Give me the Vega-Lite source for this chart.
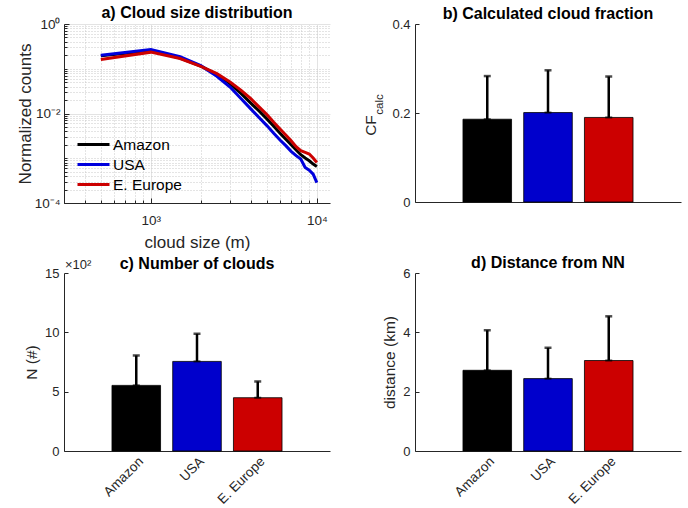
{
  "$schema": "https://vega.github.io/schema/vega-lite/v6.json",
  "background": "white",
  "padding": {"left": 16, "top": 5, "right": 5, "bottom": 2},
  "bounds": "flush",
  "columns": 2,
  "spacing": {"row": 70, "column": 85},
  "resolve": {"scale": {"color": "independent"}, "legend": {"color": "independent"}},
  "datasets": {
    "sizes": [
      {"size": 500, "region": "Amazon", "counts": 0.194},
      {"size": 1000, "region": "Amazon", "counts": 0.252},
      {"size": 1500, "region": "Amazon", "counts": 0.174},
      {"size": 2000, "region": "Amazon", "counts": 0.115},
      {"size": 2500, "region": "Amazon", "counts": 0.074},
      {"size": 3000, "region": "Amazon", "counts": 0.0465},
      {"size": 3500, "region": "Amazon", "counts": 0.0277},
      {"size": 4000, "region": "Amazon", "counts": 0.0171},
      {"size": 4500, "region": "Amazon", "counts": 0.01127},
      {"size": 5000, "region": "Amazon", "counts": 0.00759},
      {"size": 5500, "region": "Amazon", "counts": 0.00519},
      {"size": 6000, "region": "Amazon", "counts": 0.00361},
      {"size": 6500, "region": "Amazon", "counts": 0.00265},
      {"size": 7000, "region": "Amazon", "counts": 0.00201},
      {"size": 7500, "region": "Amazon", "counts": 0.00153},
      {"size": 8000, "region": "Amazon", "counts": 0.0012},
      {"size": 8500, "region": "Amazon", "counts": 0.00101},
      {"size": 9000, "region": "Amazon", "counts": 0.000879},
      {"size": 9500, "region": "Amazon", "counts": 0.00074},
      {"size": 10000, "region": "Amazon", "counts": 0.000655},
      {"size": 500, "region": "USA", "counts": 0.201},
      {"size": 1000, "region": "USA", "counts": 0.27},
      {"size": 1500, "region": "USA", "counts": 0.185},
      {"size": 2000, "region": "USA", "counts": 0.117},
      {"size": 2500, "region": "USA", "counts": 0.0678},
      {"size": 3000, "region": "USA", "counts": 0.0391},
      {"size": 3500, "region": "USA", "counts": 0.0214},
      {"size": 4000, "region": "USA", "counts": 0.0127},
      {"size": 4500, "region": "USA", "counts": 0.008},
      {"size": 5000, "region": "USA", "counts": 0.00537},
      {"size": 5500, "region": "USA", "counts": 0.00361},
      {"size": 6000, "region": "USA", "counts": 0.00256},
      {"size": 6500, "region": "USA", "counts": 0.00191},
      {"size": 7000, "region": "USA", "counts": 0.00143},
      {"size": 7500, "region": "USA", "counts": 0.00114},
      {"size": 8000, "region": "USA", "counts": 0.000957},
      {"size": 8500, "region": "USA", "counts": 0.000622},
      {"size": 9000, "region": "USA", "counts": 0.000542},
      {"size": 9500, "region": "USA", "counts": 0.000441},
      {"size": 10000, "region": "USA", "counts": 0.000286},
      {"size": 500, "region": "E. Europe", "counts": 0.161},
      {"size": 1000, "region": "E. Europe", "counts": 0.235},
      {"size": 1500, "region": "E. Europe", "counts": 0.169},
      {"size": 2000, "region": "E. Europe", "counts": 0.1135},
      {"size": 2500, "region": "E. Europe", "counts": 0.0778},
      {"size": 3000, "region": "E. Europe", "counts": 0.0506},
      {"size": 3500, "region": "E. Europe", "counts": 0.0329},
      {"size": 4000, "region": "E. Europe", "counts": 0.0214},
      {"size": 4500, "region": "E. Europe", "counts": 0.01387},
      {"size": 5000, "region": "E. Europe", "counts": 0.00951},
      {"size": 5500, "region": "E. Europe", "counts": 0.00638},
      {"size": 6000, "region": "E. Europe", "counts": 0.00452},
      {"size": 6500, "region": "E. Europe", "counts": 0.00332},
      {"size": 7000, "region": "E. Europe", "counts": 0.00247},
      {"size": 7500, "region": "E. Europe", "counts": 0.00181},
      {"size": 8000, "region": "E. Europe", "counts": 0.00148},
      {"size": 8500, "region": "E. Europe", "counts": 0.00135},
      {"size": 9000, "region": "E. Europe", "counts": 0.00124},
      {"size": 9500, "region": "E. Europe", "counts": 0.00101},
      {"size": 10000, "region": "E. Europe", "counts": 0.000805}
    ],
    "cf": [
      {"region": "Amazon", "mean": 0.186, "upper": 0.283},
      {"region": "USA", "mean": 0.201, "upper": 0.296},
      {"region": "E. Europe", "mean": 0.19, "upper": 0.282}
    ],
    "ncl": [
      {"region": "Amazon", "mean": 553, "upper": 805},
      {"region": "USA", "mean": 755, "upper": 988},
      {"region": "E. Europe", "mean": 449, "upper": 586}
    ],
    "dist": [
      {"region": "Amazon", "mean": 2.72, "upper": 4.07},
      {"region": "USA", "mean": 2.44, "upper": 3.48},
      {"region": "E. Europe", "mean": 3.05, "upper": 4.54}
    ],
    "one": [{"label": "calc"}]
  },
  "concat": [
    {
      "width": 266,
      "height": 179,
      "title": {"text": "a) Cloud size distribution", "offset": -4},
      "data": {"name": "sizes"},
      "mark": {"type": "line", "strokeWidth": 3, "clip": true},
      "encoding": {
        "x": {
          "field": "size", "type": "quantitative",
          "scale": {"type": "log", "domain": [300, 12000], "nice": false},
          "axis": {
            "title": "cloud size (m)",
            "values": [300, 400, 500, 600, 700, 800, 900, 1000, 2000, 3000, 4000, 5000, 6000, 7000, 8000, 9000, 10000],
            "labelExpr": "datum.value == 1000 ? '10³' : (datum.value == 10000 ? '10⁴' : '')",
            "grid": true,
            "gridColor": {"condition": {"test": "datum.value == 1000 || datum.value == 10000", "value": "#e3e3e3"}, "value": "#c8c8c8"},
            "gridDash": {"condition": {"test": "datum.value == 1000 || datum.value == 10000", "value": []}, "value": [1, 2]},
            "tickSize": {"condition": {"test": "datum.value == 1000 || datum.value == 10000", "value": -5}, "value": -3},
            "labelPadding": 15,
            "labelFontSize": 13.5,
            "titlePadding": 8,
            "titleFontSize": 17,
            "labelFlush": false
          }
        },
        "y": {
          "field": "counts", "type": "quantitative",
          "scale": {"type": "log", "domain": [0.0001, 1], "nice": false},
          "axis": {
            "title": "Normalized counts",
            "values": [0.0001, 0.0002, 0.0003, 0.0004, 0.0005, 0.0006, 0.0007, 0.0008, 0.0009, 0.001, 0.002, 0.003, 0.004, 0.005, 0.006, 0.007, 0.008, 0.009, 0.01, 0.02, 0.03, 0.04, 0.05, 0.06, 0.07, 0.08, 0.09, 0.1, 0.2, 0.3, 0.4, 0.5, 0.6, 0.7, 0.8, 0.9, 1],
            "labelExpr": "datum.value == 1 ? '10⁰' : (datum.value == 0.01 ? '10⁻²' : (datum.value == 0.0001 ? '10⁻⁴' : ''))",
            "grid": true,
            "gridColor": {"condition": {"test": "datum.value == 1 || datum.value == 0.01 || datum.value == 0.0001", "value": "#e3e3e3"}, "value": "#c8c8c8"},
            "gridDash": {"condition": {"test": "datum.value == 1 || datum.value == 0.01 || datum.value == 0.0001", "value": []}, "value": [1, 2]},
            "tickSize": {"condition": {"test": "datum.value == 1 || datum.value == 0.01 || datum.value == 0.0001", "value": -5}, "value": -3},
            "labelFontSize": 13.5,
            "labelPadding": 9,
            "titlePadding": 0,
            "titleFontSize": 17,
            "labelFlush": false
          }
        },
        "color": {
          "field": "region", "type": "nominal",
          "sort": ["Amazon", "USA", "E. Europe"],
          "scale": {"domain": ["Amazon", "USA", "E. Europe"], "range": ["#000000", "#0000DD", "#CC0000"]},
          "legend": {
            "title": null,
            "orient": "none",
            "legendX": 20,
            "legendY": 111,
            "symbolType": "M-2,0H2",
            "symbolSize": 256,
            "symbolStrokeWidth": 2.8,
            "labelFontSize": 15.5,
            "labelColor": "#000000",
            "labelOffset": 10,
            "rowPadding": 2,
            "padding": 0
          }
        }
      }
    },
    {
      "width": 266,
      "height": 178,
      "title": {"text": "b) Calculated cloud fraction", "offset": -4},
      "data": {"name": "cf"},
      "layer": [
        {
          "mark": {"type": "bar", "stroke": "#000000", "strokeWidth": 0.8},
          "encoding": {
            "x": {"field": "region", "type": "nominal", "sort": ["Amazon", "USA", "E. Europe"], "scale": {"paddingInner": 0.2, "paddingOuter": 0.79}, "axis": {"title": null, "labels": false, "tickSize": -3}},
            "y": {"field": "mean", "type": "quantitative", "scale": {"domain": [0, 0.4], "nice": false},
              "axis": {"title": "CF", "titleFontSize": 15.5, "values": [0, 0.2, 0.4], "labelExpr": "datum.value == 0 ? '0' : format(datum.value, '.1f')", "titlePadding": 13, "titleY": 101}},
            "color": {"field": "region", "type": "nominal", "scale": {"domain": ["Amazon", "USA", "E. Europe"], "range": ["#000000", "#0000CC", "#CC0000"]}, "legend": null}
          }
        },
        {
          "mark": {"type": "rule", "strokeWidth": 2.5, "color": "#000000"},
          "encoding": {
            "x": {"field": "region", "type": "nominal", "sort": ["Amazon", "USA", "E. Europe"]},
            "y": {"field": "mean", "type": "quantitative"},
            "y2": {"field": "upper"}
          }
        },
        {
          "mark": {"type": "tick", "color": "#000000", "size": 7, "thickness": 2.5},
          "encoding": {
            "x": {"field": "region", "type": "nominal", "sort": ["Amazon", "USA", "E. Europe"]},
            "y": {"field": "upper", "type": "quantitative"}
          }
        },
        {
          "mark": {"type": "tick", "color": "#000000", "size": 7, "thickness": 2},
          "encoding": {
            "x": {"field": "region", "type": "nominal", "sort": ["Amazon", "USA", "E. Europe"]},
            "y": {"field": "mean", "type": "quantitative"}
          }
        },
        {
          "data": {"name": "one"},
          "mark": {"type": "text", "angle": 270, "fontSize": 11.5, "color": "#262626", "align": "center", "baseline": "middle"},
          "encoding": {
            "text": {"field": "label"},
            "x": {"value": -35},
            "y": {"datum": 0.219}
          }
        }
      ]
    },
    {
      "width": 266,
      "height": 178,
      "title": {"text": "c) Number of clouds", "offset": -13},
      "data": {"name": "ncl"},
      "layer": [
        {
          "mark": {"type": "bar", "stroke": "#000000", "strokeWidth": 0.8},
          "encoding": {
            "x": {"field": "region", "type": "nominal", "sort": ["Amazon", "USA", "E. Europe"], "scale": {"paddingInner": 0.2, "paddingOuter": 0.79}, "axis": {"title": null, "labelAngle": -45, "tickSize": -3, "labelFontSize": 13.5, "labelPadding": 6}},
            "y": {"field": "mean", "type": "quantitative", "scale": {"domain": [0, 1500], "nice": false},
              "axis": {"title": "N (#)", "values": [0, 500, 1000, 1500], "labelExpr": "format(datum.value / 100, 'd')", "titlePadding": 5}},
            "color": {"field": "region", "type": "nominal", "scale": {"domain": ["Amazon", "USA", "E. Europe"], "range": ["#000000", "#0000CC", "#CC0000"]}, "legend": null}
          }
        },
        {
          "mark": {"type": "rule", "strokeWidth": 2.5, "color": "#000000"},
          "encoding": {
            "x": {"field": "region", "type": "nominal", "sort": ["Amazon", "USA", "E. Europe"]},
            "y": {"field": "mean", "type": "quantitative"},
            "y2": {"field": "upper"}
          }
        },
        {
          "mark": {"type": "tick", "color": "#000000", "size": 7, "thickness": 2.5},
          "encoding": {
            "x": {"field": "region", "type": "nominal", "sort": ["Amazon", "USA", "E. Europe"]},
            "y": {"field": "upper", "type": "quantitative"}
          }
        },
        {
          "mark": {"type": "tick", "color": "#000000", "size": 7, "thickness": 2},
          "encoding": {
            "x": {"field": "region", "type": "nominal", "sort": ["Amazon", "USA", "E. Europe"]},
            "y": {"field": "mean", "type": "quantitative"}
          }
        },
        {
          "data": {"values": [{"label": "×10²"}]},
          "mark": {"type": "text", "fontSize": 13, "color": "#262626", "align": "left", "baseline": "bottom", "dy": -1},
          "encoding": {
            "text": {"field": "label"},
            "x": {"value": 1},
            "y": {"datum": 1500}
          }
        }
      ]
    },
    {
      "width": 266,
      "height": 178,
      "title": {"text": "d) Distance from NN", "offset": -4},
      "data": {"name": "dist"},
      "layer": [
        {
          "mark": {"type": "bar", "stroke": "#000000", "strokeWidth": 0.8},
          "encoding": {
            "x": {"field": "region", "type": "nominal", "sort": ["Amazon", "USA", "E. Europe"], "scale": {"paddingInner": 0.2, "paddingOuter": 0.79}, "axis": {"title": null, "labelAngle": -45, "tickSize": -3, "labelFontSize": 13.5, "labelPadding": 6}},
            "y": {"field": "mean", "type": "quantitative", "scale": {"domain": [0, 6], "nice": false},
              "axis": {"title": "distance (km)", "values": [0, 2, 4, 6], "titlePadding": 5}},
            "color": {"field": "region", "type": "nominal", "scale": {"domain": ["Amazon", "USA", "E. Europe"], "range": ["#000000", "#0000CC", "#CC0000"]}, "legend": null}
          }
        },
        {
          "mark": {"type": "rule", "strokeWidth": 2.5, "color": "#000000"},
          "encoding": {
            "x": {"field": "region", "type": "nominal", "sort": ["Amazon", "USA", "E. Europe"]},
            "y": {"field": "mean", "type": "quantitative"},
            "y2": {"field": "upper"}
          }
        },
        {
          "mark": {"type": "tick", "color": "#000000", "size": 7, "thickness": 2.5},
          "encoding": {
            "x": {"field": "region", "type": "nominal", "sort": ["Amazon", "USA", "E. Europe"]},
            "y": {"field": "upper", "type": "quantitative"}
          }
        },
        {
          "mark": {"type": "tick", "color": "#000000", "size": 7, "thickness": 2},
          "encoding": {
            "x": {"field": "region", "type": "nominal", "sort": ["Amazon", "USA", "E. Europe"]},
            "y": {"field": "mean", "type": "quantitative"}
          }
        }
      ]
    }
  ],
  "config": {
    "font": "Liberation Sans",
    "view": {"stroke": null},
    "axis": {
      "domainColor": "#262626", "domainWidth": 1,
      "tickColor": "#262626", "tickWidth": 1, "tickSize": -4,
      "labelColor": "#262626", "labelFontSize": 13, "labelPadding": 9,
      "titleColor": "#262626", "titleFontSize": 15.5, "titleFontWeight": "normal",
      "grid": false
    },
    "title": {"fontSize": 16, "fontWeight": "bold", "color": "#000000", "offset": 3}
  }
}
